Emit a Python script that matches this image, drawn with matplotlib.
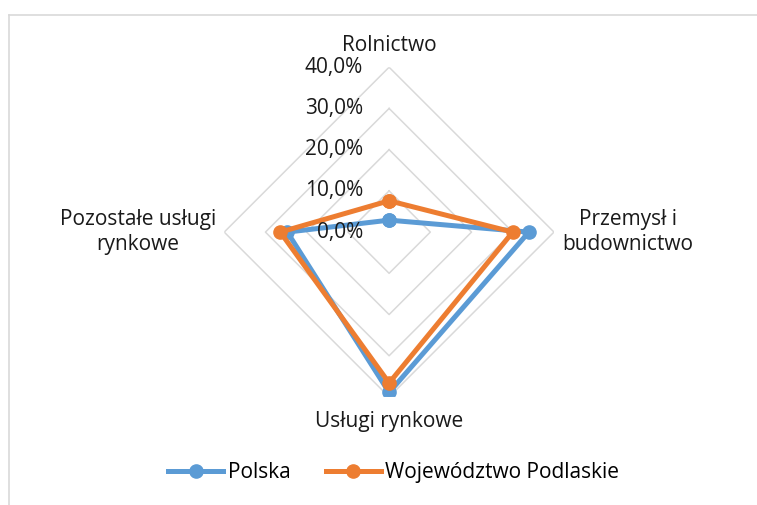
import numpy as np
import matplotlib
matplotlib.use("Agg")
import matplotlib.pyplot as plt
from matplotlib.lines import Line2D
from matplotlib.transforms import offset_copy

plt.rcParams['font.family'] = ['Open Sans', 'DejaVu Sans']

# data (share of employment, %)
categories = ['Rolnictwo', 'Przemysł i\nbudownictwo', 'Usługi rynkowe', 'Pozostałe usługi\nrynkowe']
polska = [2.9, 33.9, 38.9, 24.7]
podlaskie = [7.6, 30.0, 36.6, 26.4]
rings = [10, 20, 30, 40]
ring_labels = ['0,0%', '10,0%', '20,0%', '30,0%', '40,0%']

blue = '#5B9BD5'
orange = '#ED7D31'
grid_col = '#D9D9D9'
txt_col = '#1a1a1a'
fs = 15

fig = plt.figure(figsize=(7.57, 5.05), dpi=100)
ax = fig.add_axes([0.514 - 0.218, 0.5406 - 0.3267, 0.436, 0.653], projection='polar')
ax.set_theta_offset(np.pi / 2)
ax.set_theta_direction(-1)
ax.set_ylim(0, 40)
ax.set_xticks([])
ax.set_yticks([])
ax.grid(False)
ax.spines['polar'].set_visible(False)
ax.patch.set_alpha(0)

n = len(categories)
angles = np.linspace(0, 2 * np.pi, n, endpoint=False)
closed = np.concatenate([angles, angles[:1]])

# polygon grid
for r in rings:
    ax.plot(closed, [r] * (n + 1), color=grid_col, lw=1.1, zorder=1)

# series
for vals, col, lab in [(polska, blue, 'Polska'), (podlaskie, orange, 'Województwo Podlaskie')]:
    v = list(vals) + [vals[0]]
    ax.plot(closed, v, color=col, lw=3.6, marker='o', ms=9.5, label=lab, zorder=3)

# radial labels
trans = offset_copy(ax.transData, fig=fig, x=-26, y=0, units='dots')
for val, lab in zip([0] + rings, ring_labels):
    ax.text(0, val, lab, transform=trans, ha='right', va='center', fontsize=fs, color=txt_col)

# category labels
ax.text(angles[0], 45.3, categories[0], ha='center', va='center', fontsize=fs, color=txt_col)
ax.text(angles[1], 42.0, categories[1], ha='left', va='center', multialignment='center', fontsize=fs, color=txt_col)
ax.text(angles[2], 46.0, categories[2], ha='center', va='center', fontsize=fs, color=txt_col)
ax.text(angles[3], 42.0, categories[3], ha='right', va='center', multialignment='center', fontsize=fs, color=txt_col)

fig.legend(loc='center', bbox_to_anchor=(0.52, 0.064), ncol=2, frameon=False,
           fontsize=fs, handlelength=2.65, columnspacing=1.7, handletextpad=0.2)

# chart area frame (only top and left edges visible in the crop)
fig.add_artist(Line2D([0.0119, 1.0], [0.970, 0.970], transform=fig.transFigure, color=grid_col, lw=1.2))
fig.add_artist(Line2D([0.0119, 0.0119], [0.0, 0.970], transform=fig.transFigure, color=grid_col, lw=1.2))

fig.savefig('out.png', dpi=100)
